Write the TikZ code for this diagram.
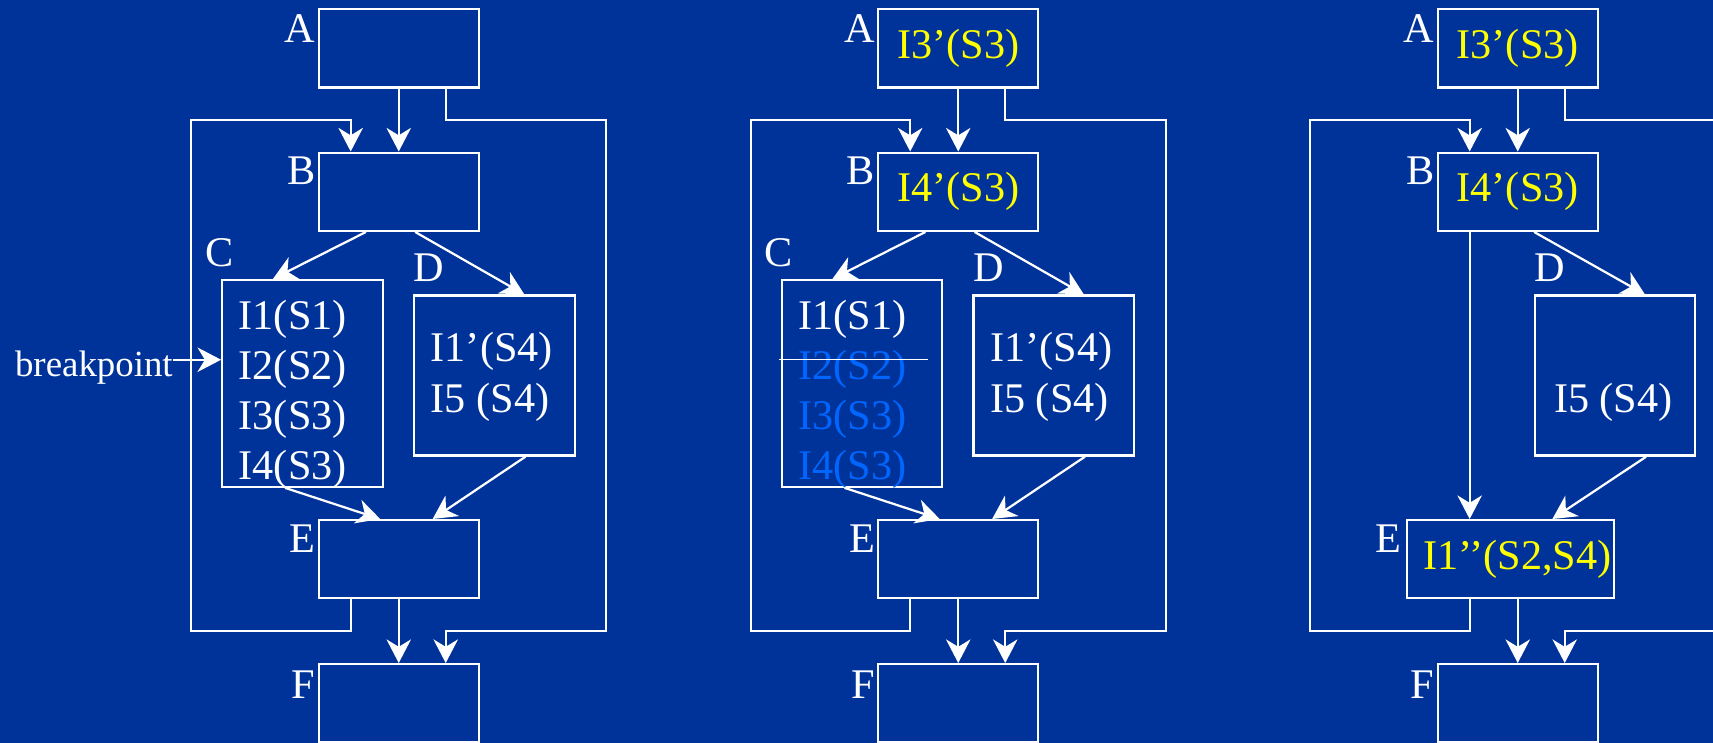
\documentclass[tikz,border=0pt]{standalone}
\usepackage{fontspec}
\setmainfont{Liberation Serif}
\usetikzlibrary{arrows.meta}
\definecolor{slidebg}{RGB}{0,51,153}
\definecolor{hilite}{RGB}{255,255,0}
\definecolor{dimtext}{RGB}{0,102,255}
\begin{document}
\begin{tikzpicture}[x=0.025cm,y=-0.025cm,
  every node/.style={font=\fontsize{27.5}{33}\selectfont, text=white, inner sep=0pt},
  box/.style={draw=white, line width=1.45pt, rectangle, minimum width=3.66cm, minimum height=1.79cm},
  cbox/.style={box, minimum width=3.675cm, minimum height=4.73cm},
  dbox/.style={box, minimum width=3.675cm, minimum height=3.66cm},
  arr/.style={draw=white, line width=1.45pt, -{Stealth[length=0.54cm,width=0.56cm,inset=0.17cm]}},
  tag/.style={anchor=base east},
  tagw/.style={anchor=base west},
  stmt/.style={anchor=base west},
  newstmt/.style={text=hilite},
]
% slide background
\fill[slidebg] (0,0) rectangle (1568,680);
\useasboundingbox (0,0) rectangle (1568,680);
\clip (0,0) rectangle (1568,680);

% ---------------- left: original flow graph ----------------
\begin{scope}
  \coordinate (xl1) at (175,0);
  \coordinate (xm1) at (321,0);
  \coordinate (xr1) at (408,0);
  \coordinate (xR1) at (555,0);
  \coordinate (yt1) at (0,110);
  \coordinate (yb1) at (0,577.5);

  \node[box] (A1) at (365,44.2) {};
  \node[box] (B1) at (365,175.5) {};
  \node[cbox] (C1) at (276.9,350.9) {};
  \node[dbox] (D1) at (452.5,343.8) {};
  \node[box] (E1) at (365,511.9) {};
  \node[box] (F1) at (365,643.7) {};

  \node[tag] (tA1) at (289,38.6) {A};
  \node[tag] (tB1) at (289,169) {B};
  \node[tagw] (tC1) at (187.8,244) {C};
  \node[tagw] (tD1) at (378.5,258) {D};
  \node[tag] (tE1) at (289,506) {E};
  \node[tag] (tF1) at (289,639) {F};

  \node[stmt] (c11) at (218.3,302) {I1(S1)};
  \node[stmt] (c12) at (218.3,347.7) {I2(S2)};
  \node[stmt] (c13) at (218.3,393.4) {I3(S3)};
  \node[stmt] (c14) at (218.3,439) {I4(S3)};
  \node[stmt] (d11) at (394,331) {I1’(S4)};
  \node[stmt] (d12) at (394,378) {I5 (S4)};

  \node[anchor=base west, font=\fontsize{24}{29}\selectfont] (bp) at (13.5,345) {breakpoint};
  \coordinate (bpa) at ([yshift=0.19cm]bp.east);
  \draw[arr] (bpa) -- (bpa -| C1.west);

  \draw[arr] (A1) -- (B1);
  \draw[arr] (E1) -- (F1);
  \draw[arr] ([xshift=-0.75cm]B1.south) -- ([xshift=-0.675cm]C1.north);
  \draw[arr] ([xshift=0.375cm]B1.south) -- ([xshift=0.6875cm]D1.north);
  \draw[arr] ([xshift=-0.4cm]C1.south) -- ([xshift=-0.425cm]E1.north);
  \draw[arr] ([xshift=0.7125cm]D1.south) -- ([xshift=0.775cm]E1.north);
  \draw[arr] (E1.south -| xm1) |- (yb1 -| xl1) |- (yt1 -| xm1) -- (B1.north -| xm1);
  \draw[arr] (A1.south -| xr1) |- (yt1 -| xR1) |- (yb1 -| xr1) -- (F1.north -| xr1);
\end{scope}

% ---------------- middle: hoisted statements ----------------
\begin{scope}[xshift=12.8cm]
  \coordinate (xl2) at (175,0);
  \coordinate (xm2) at (321,0);
  \coordinate (xr2) at (408,0);
  \coordinate (xR2) at (555,0);
  \coordinate (yt2) at (0,110);
  \coordinate (yb2) at (0,577.5);

  \node[box, newstmt] (A2) at (365,44.2) {I3’(S3)};
  \node[box, newstmt] (B2) at (365,175.5) {I4’(S3)};
  \node[cbox] (C2) at (276.9,350.9) {};
  \node[dbox] (D2) at (452.5,343.8) {};
  \node[box] (E2) at (365,511.9) {};
  \node[box] (F2) at (365,643.7) {};

  \node[tag] (tA2) at (289,38.6) {A};
  \node[tag] (tB2) at (289,169) {B};
  \node[tagw] (tC2) at (187.8,244) {C};
  \node[tagw] (tD2) at (378.5,258) {D};
  \node[tag] (tE2) at (289,506) {E};
  \node[tag] (tF2) at (289,639) {F};

  \node[stmt] (c21) at (218.3,302) {I1(S1)};
  \node[stmt, text=dimtext] (c22) at (218.3,347.7) {I2(S2)};
  \node[stmt, text=dimtext] (c23) at (218.3,393.4) {I3(S3)};
  \node[stmt, text=dimtext] (c24) at (218.3,439) {I4(S3)};
  \node[stmt] (d21) at (394,331) {I1’(S4)};
  \node[stmt] (d22) at (394,378) {I5 (S4)};
  % struck-out statement
  \draw[white, line width=1pt] (201,329) -- (337,329);

  \draw[arr] (A2) -- (B2);
  \draw[arr] (E2) -- (F2);
  \draw[arr] ([xshift=-0.75cm]B2.south) -- ([xshift=-0.675cm]C2.north);
  \draw[arr] ([xshift=0.375cm]B2.south) -- ([xshift=0.6875cm]D2.north);
  \draw[arr] ([xshift=-0.4cm]C2.south) -- ([xshift=-0.425cm]E2.north);
  \draw[arr] ([xshift=0.7125cm]D2.south) -- ([xshift=0.775cm]E2.north);
  \draw[arr] (E2.south -| xm2) |- (yb2 -| xl2) |- (yt2 -| xm2) -- (B2.north -| xm2);
  \draw[arr] (A2.south -| xr2) |- (yt2 -| xR2) |- (yb2 -| xr2) -- (F2.north -| xr2);
\end{scope}

% ---------------- right: merged block ----------------
\begin{scope}[xshift=25.6cm]
  \coordinate (xl3) at (175,0);
  \coordinate (xm3) at (321,0);
  \coordinate (xr3) at (408,0);
  \coordinate (xR3) at (555,0);
  \coordinate (yt3) at (0,110);
  \coordinate (yb3) at (0,577.5);

  \node[box, newstmt] (A3) at (365,44.2) {I3’(S3)};
  \node[box, newstmt] (B3) at (365,175.5) {I4’(S3)};
  \node[dbox] (D3) at (454,343.8) {};
  \node[box, minimum width=4.725cm] (E3) at (358.5,511.9) {};
  \node[box] (F3) at (365,643.7) {};

  \node[tag] (tA3) at (289,38.6) {A};
  \node[tag] (tB3) at (289,169) {B};
  \node[tagw] (tD3) at (380.5,258) {D};
  \node[tag] (tE3) at (258.5,506) {E};
  \node[tag] (tF3) at (289,639) {F};

  \node[stmt] (d32) at (398,378) {I5 (S4)};
  \node[stmt, newstmt] (e31) at (278.3,521.7) {I1’’(S2,S4)};

  \draw[arr] (A3) -- (B3);
  \draw[arr] (E3.south -| F3.north) -- (F3.north);
  \draw[arr] (B3.south -| xm3) -- (E3.north -| xm3);
  \draw[arr] ([xshift=0.375cm]B3.south) -- ([xshift=0.6875cm]D3.north);
  \draw[arr] ([xshift=0.7125cm]D3.south) -- ([xshift=0.955cm]E3.north);
  \draw[arr] (E3.south -| xm3) |- (yb3 -| xl3) |- (yt3 -| xm3) -- (B3.north -| xm3);
  \draw[arr] (A3.south -| xr3) |- (yt3 -| xR3) |- (yb3 -| xr3) -- (F3.north -| xr3);
\end{scope}
\end{tikzpicture}
\end{document}
